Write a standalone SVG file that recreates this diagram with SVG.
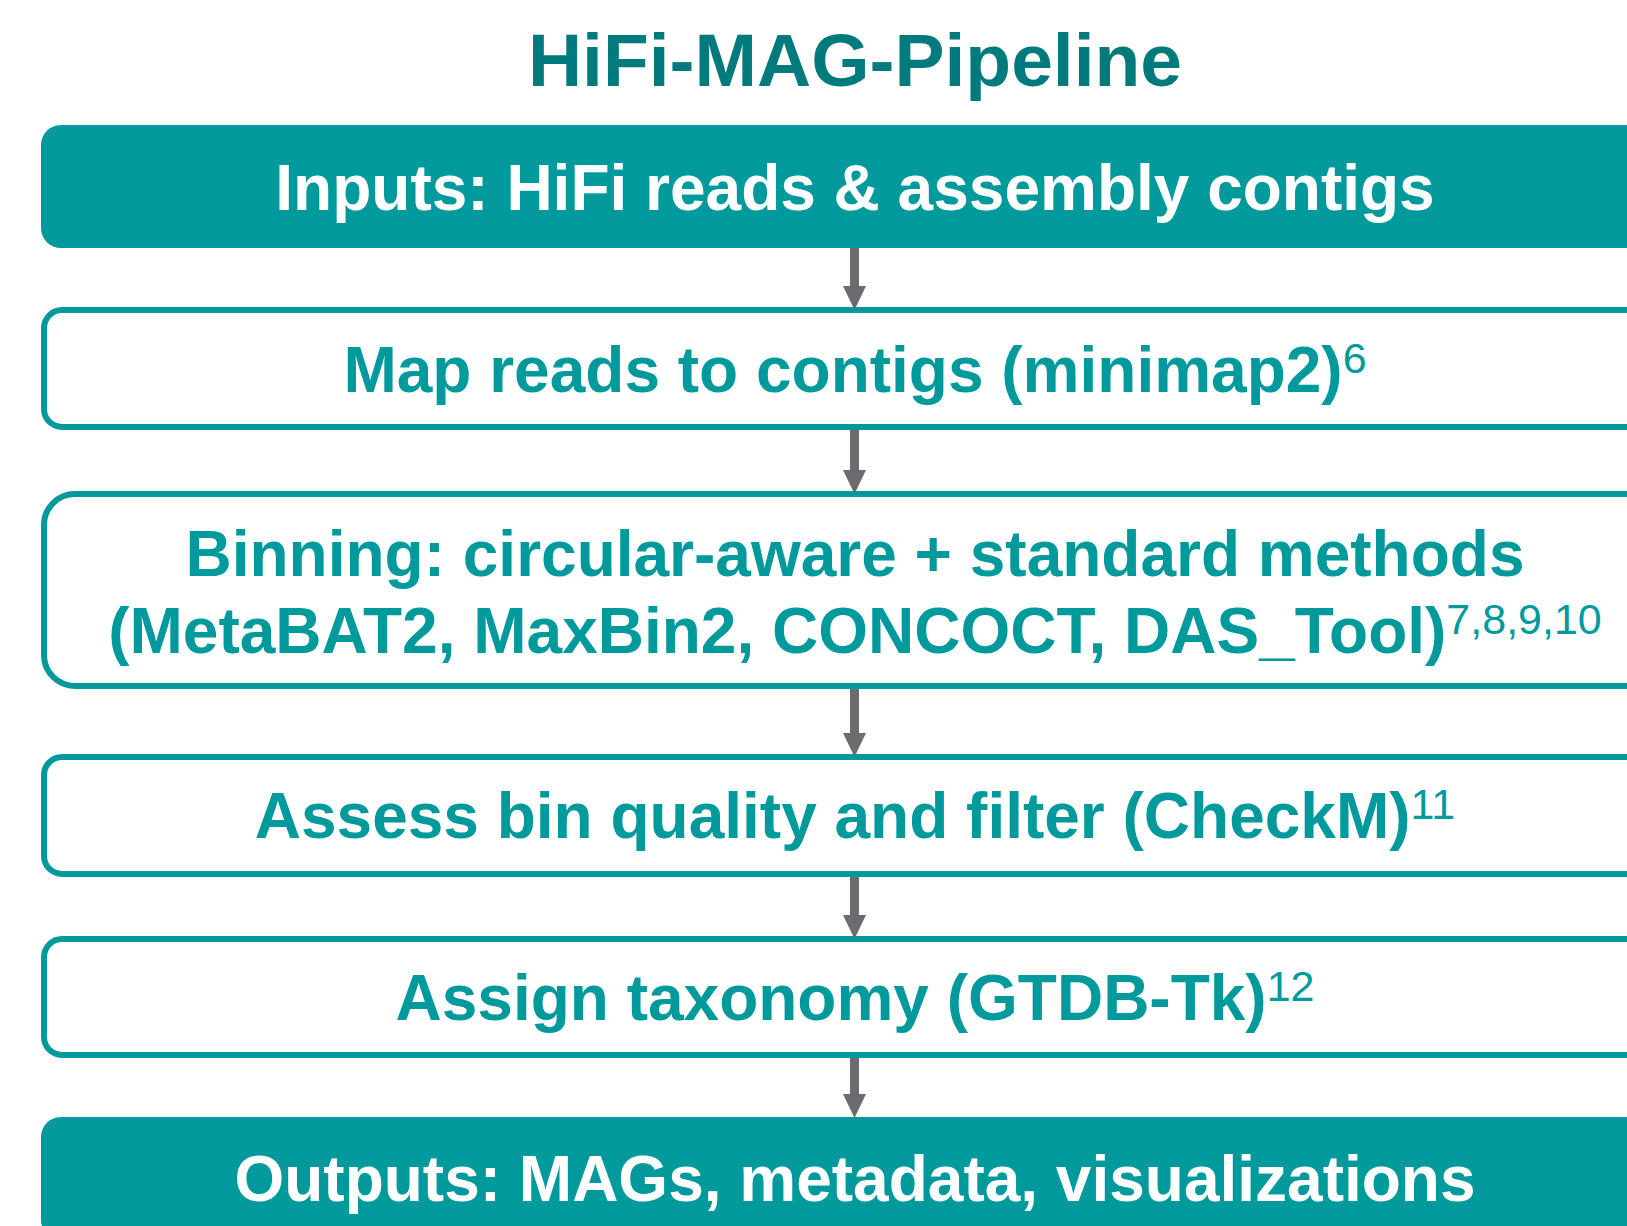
<svg xmlns="http://www.w3.org/2000/svg" width="1627" height="1226" viewBox="0 0 1627 1226">
  <defs>
    <style>
      .title { font-family: "Liberation Sans", Arial, sans-serif; font-weight: bold; font-size: 75px; fill: #007A7C; }
      .filled { fill: #009A9D; }
      .outlined { fill: #FFFFFF; stroke: #009A9D; stroke-width: 6; }
      .lbl { font-family: "Liberation Sans", Arial, sans-serif; font-weight: bold; font-size: 64px; text-anchor: middle; }
      .lbl-w { fill: #FFFFFF; }
      .lbl-t { fill: #009A9D; }
      .sup { font-weight: normal; font-size: 43px; }
      .conn { stroke: #6B6B70; stroke-width: 9; fill: none; }
    </style>
    <marker id="arrowhead" markerUnits="userSpaceOnUse" markerWidth="24" markerHeight="23" refX="2" refY="11.5" orient="auto" viewBox="0 0 24 23">
      <path d="M0,0 L24,11.5 L0,23 z" fill="#6B6B70"/>
    </marker>
  </defs>
  <rect width="1627" height="1226" fill="#FFFFFF"/>

  <text id="title" class="title" x="855" y="86" text-anchor="middle">HiFi-MAG-Pipeline</text>

  <g id="inputs">
    <rect class="filled" x="41" y="125" width="1626" height="123" rx="20" ry="20"/>
    <text class="lbl lbl-w" x="855" y="210">Inputs: HiFi reads &amp; assembly contigs</text>
  </g>

  <g id="map">
    <rect class="outlined" x="44" y="310" width="1620" height="117" rx="18" ry="18"/>
    <text class="lbl lbl-t" x="855" y="392">Map reads to contigs (minimap2)<tspan class="sup" dy="-19">6</tspan></text>
  </g>

  <g id="binning">
    <rect class="outlined" x="44" y="494" width="1620" height="192" rx="31" ry="31"/>
    <text class="lbl lbl-t" x="855" y="576">Binning: circular-aware + standard methods</text>
    <text class="lbl lbl-t" x="855" y="653">(MetaBAT2, MaxBin2, CONCOCT, DAS_Tool)<tspan class="sup" dy="-19">7,8,9,10</tspan></text>
  </g>

  <g id="assess">
    <rect class="outlined" x="44" y="757" width="1620" height="117" rx="18" ry="18"/>
    <text class="lbl lbl-t" x="855" y="838">Assess bin quality and filter (CheckM)<tspan class="sup" dy="-19">11</tspan></text>
  </g>

  <g id="assign">
    <rect class="outlined" x="44" y="939" width="1620" height="116" rx="18" ry="18"/>
    <text class="lbl lbl-t" x="855" y="1020">Assign taxonomy (GTDB-Tk)<tspan class="sup" dy="-19">12</tspan></text>
  </g>

  <g id="outputs">
    <rect class="filled" x="41" y="1117" width="1626" height="123" rx="20" ry="20"/>
    <text class="lbl lbl-w" x="855" y="1201">Outputs: MAGs, metadata, visualizations</text>
  </g>

  <g id="connectors">
    <line class="conn" x1="854.5" y1="248" x2="854.5" y2="288" marker-end="url(#arrowhead)"/>
    <line class="conn" x1="854.5" y1="430" x2="854.5" y2="472" marker-end="url(#arrowhead)"/>
    <line class="conn" x1="854.5" y1="689" x2="854.5" y2="735" marker-end="url(#arrowhead)"/>
    <line class="conn" x1="854.5" y1="877" x2="854.5" y2="917" marker-end="url(#arrowhead)"/>
    <line class="conn" x1="854.5" y1="1058" x2="854.5" y2="1096" marker-end="url(#arrowhead)"/>
  </g>
</svg>
